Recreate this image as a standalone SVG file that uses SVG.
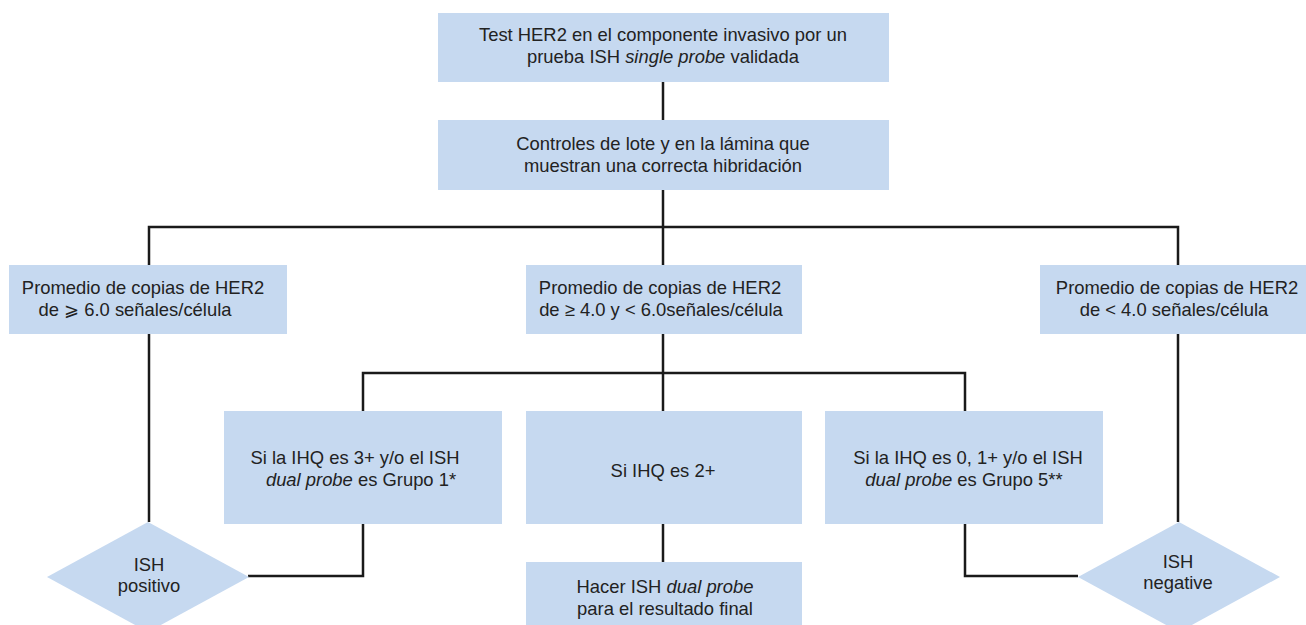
<svg xmlns="http://www.w3.org/2000/svg" width="1306" height="625" viewBox="0 0 1306 625">
<style>
.box{fill:#c6d9f0;}
.t{font-family:"Liberation Sans",Arial,sans-serif;font-size:18.4px;fill:#222;text-anchor:middle;}
.i{font-style:italic;}
.c{fill:none;stroke:#1a1a1a;stroke-width:2.5;}
</style>
<rect width="1306" height="625" fill="#fff"/>
<g id="connectors">
<path class="c" d="M663 82V120"/>
<path class="c" d="M663 190V265"/>
<path class="c" d="M149 265V227H1178V265"/>
<path class="c" d="M149 334V522"/>
<path class="c" d="M1178 334V522"/>
<path class="c" d="M663 334V411"/>
<path class="c" d="M363 411V373H965V411"/>
<path class="c" d="M363 524V576H248"/>
<path class="c" d="M965 524V576H1078"/>
<path class="c" d="M663 524V562"/>
</g>
<g id="n1"><rect class="box" x="438" y="13" width="451" height="69"/>
<text class="t" x="663" y="41">Test HER2 en el componente invasivo por un</text>
<text class="t" x="663" y="63">prueba ISH <tspan class="i">single probe</tspan> validada</text></g>
<g id="n2"><rect class="box" x="438" y="120" width="451" height="70"/>
<text class="t" x="663" y="150">Controles de lote y en la lámina que</text>
<text class="t" x="663" y="172">muestran una correcta hibridación</text></g>
<g id="n3"><rect class="box" x="9" y="265" width="278" height="69"/>
<text class="t" x="143" y="294">Promedio de copias de HER2</text>
<text class="t" x="135" y="316">de ⩾ 6.0 señales/célula</text></g>
<g id="n4"><rect class="box" x="526" y="265" width="276" height="69"/>
<text class="t" x="660" y="294">Promedio de copias de HER2</text>
<text class="t" x="661" y="316">de ≥ 4.0 y &lt; 6.0señales/célula</text></g>
<g id="n5"><rect class="box" x="1040" y="265" width="266" height="69"/>
<text class="t" x="1177" y="294">Promedio de copias de HER2</text>
<text class="t" x="1174" y="316">de &lt; 4.0 señales/célula</text></g>
<g id="n6"><rect class="box" x="224" y="411" width="278" height="113"/>
<text class="t" x="355" y="464">Si la IHQ es 3+ y/o el ISH</text>
<text class="t" x="361" y="486"><tspan class="i">dual probe</tspan> es Grupo 1*</text></g>
<g id="n7"><rect class="box" x="526" y="411" width="276" height="113"/>
<text class="t" x="663" y="477">Si IHQ es 2+</text></g>
<g id="n8"><rect class="box" x="825" y="411" width="278" height="113"/>
<text class="t" x="968" y="464">Si la IHQ es 0, 1+ y/o el ISH</text>
<text class="t" x="964" y="486"><tspan class="i">dual probe</tspan> es Grupo 5**</text></g>
<g id="n9"><rect class="box" x="526" y="562" width="276" height="70"/>
<text class="t" x="665" y="593">Hacer ISH <tspan class="i">dual probe</tspan></text>
<text class="t" x="665" y="615">para el resultado final</text></g>
<g id="n10"><polygon class="box" points="148,522 249,577 148,632 47,577"/>
<text class="t" x="149" y="571">ISH</text>
<text class="t" x="149" y="592">positivo</text></g>
<g id="n11"><polygon class="box" points="1179,522 1280,577 1179,632 1078,577"/>
<text class="t" x="1178" y="568">ISH</text>
<text class="t" x="1178" y="589">negative</text></g>
</svg>
